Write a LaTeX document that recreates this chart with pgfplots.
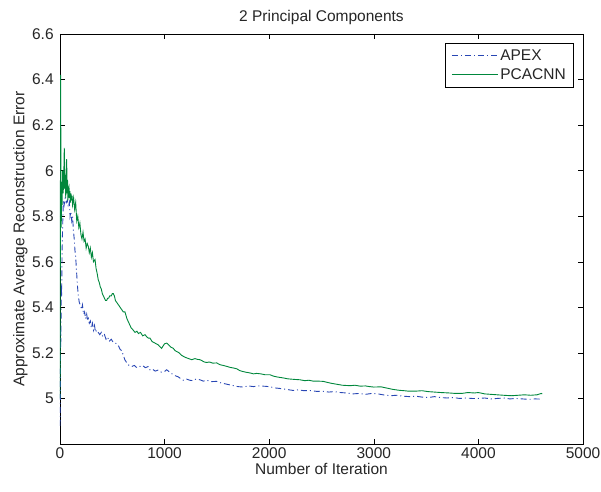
\documentclass[border=0pt]{standalone}
\usepackage{pgfplots}
\pgfplotsset{compat=1.18}
\usepackage{fontspec}
\setmainfont{Liberation Sans}
\definecolor{apexblue}{RGB}{40,70,180}
\definecolor{pcagreen}{RGB}{0,135,60}
\begin{document}
\fontsize{15.5}{18}\selectfont
\begin{tikzpicture}
\useasboundingbox (-60pt,-47pt) rectangle (541pt,444pt);
\begin{axis}[
  at={(0pt,0pt)}, anchor=south west,
  scale only axis,
  width=523pt, height=410pt,
  xmin=0, xmax=5000, ymin=4.8, ymax=6.6,
  xtick={0,1000,2000,3000,4000,5000},
  ytick={5,5.2,5.4,5.6,5.8,6,6.2,6.4,6.6},
  yticklabels={5,5.2,5.4,5.6,5.8,6,6.2,6.4,6.6},
  scaled x ticks=false,
  /pgf/number format/1000 sep={},
  /pgf/number format/assume math mode=true,
  tick align=inside,
  major tick length=5pt,
  tick style={black, line width=0.5pt},
  axis line style={black, line width=0.7pt},
  tick label style={font=\fontsize{15.5}{18}\selectfont, text=black!85},
  xticklabel style={yshift=2pt},
  yticklabel style={xshift=-1pt},
  label style={font=\fontsize{15.5}{18}\selectfont, text=black!85},
  title style={font=\fontsize{15.5}{18}\selectfont, text=black!85, yshift=-2pt},
  title={2 Principal Components},
  xlabel={Number of Iteration},
  ylabel={Approximate Average Reconstruction Error},
  xlabel style={yshift=6pt},
  ylabel style={yshift=-6pt},
  legend style={at={(0.983,0.978)}, anchor=north east,
    draw=black, line width=0.7pt, font=\fontsize{15.5}{18}\selectfont, text=black!85,
    inner xsep=6pt, inner ysep=4pt, row sep=2pt},
  legend cell align=left,
  legend image code/.code={\draw[#1] (0pt,0pt) -- (46pt,0pt);},
]
\addplot[apexblue, line width=0.9pt, dash pattern=on 6pt off 3pt on 1pt off 3pt] coordinates {
(0,4.88)(3,5.0)(6,5.3)(9,5.25)(12,5.5)(16,5.45)(20,5.65)(25,5.75)(32,5.87)(40,5.85)(50,5.88)(60,5.86)(70,5.87)(80,5.84)(90,5.86)(96,5.80)(104,5.82)(112,5.78)(120,5.80)(128,5.74)(136,5.70)(143,5.65)(150,5.62)(158,5.56)(166,5.50)(175,5.45)(185,5.42)(195,5.41)(207,5.39)(215,5.41)(225,5.37)(235,5.38)(245,5.35)(255,5.37)(265,5.34)(271,5.35)(280,5.33)(290,5.34)(300,5.31)(310,5.33)(320,5.30)(330,5.32)(340,5.29)(350,5.30)(366,5.29)(380,5.28)(395,5.29)(410,5.27)(425,5.28)(440,5.26)(455,5.27)(470,5.25)(490,5.26)(510,5.245)(526,5.243)(545,5.24)(560,5.23)(575,5.215)(590,5.21)(605,5.19)(620,5.17)(640,5.155)(660,5.145)(685,5.14)(710,5.145)(735,5.135)(760,5.14)(790,5.145)(815,5.135)(843,5.14)(860,5.126)(880,5.13)(910,5.12)(940,5.125)(970,5.115)(1004,5.12)(1020,5.126)(1050,5.115)(1080,5.105)(1100,5.10)(1130,5.095)(1150,5.088)(1179,5.08)(1210,5.085)(1240,5.08)(1270,5.078)(1300,5.085)(1338,5.082)(1370,5.076)(1400,5.08)(1450,5.074)(1498,5.075)(1540,5.068)(1580,5.064)(1620,5.06)(1660,5.056)(1700,5.052)(1753,5.05)(1800,5.055)(1850,5.052)(1900,5.055)(1976,5.053)(2020,5.05)(2060,5.046)(2100,5.044)(2160,5.04)(2231,5.035)(2280,5.038)(2330,5.034)(2390,5.035)(2454,5.031)(2510,5.032)(2570,5.028)(2620,5.03)(2680,5.026)(2740,5.024)(2800,5.02)(2860,5.022)(2920,5.018)(2980,5.022)(3040,5.02)(3100,5.015)(3160,5.012)(3220,5.014)(3280,5.01)(3340,5.008)(3400,5.01)(3460,5.006)(3520,5.004)(3580,5.008)(3640,5.004)(3700,5.002)(3760,5.004)(3820,5.0)(3880,5.002)(3940,5.0)(4000,5.0)(4060,5.002)(4120,4.998)(4180,5.0)(4240,5.002)(4300,4.998)(4360,5.0)(4420,4.998)(4480,4.996)(4540,4.998)(4610,4.997)
};
\addlegendentry{APEX}
\addplot[pcagreen, line width=0.9pt] coordinates {
(0,5.0)(3,5.6)(6,6.42)(9,6.0)(12,5.75)(15,5.95)(20,5.85)(25,6.0)(30,5.9)(35,5.95)(41,6.10)(45,5.92)(50,5.98)(55,5.88)(60,6.03)(64,6.05)(68,5.90)(72,5.96)(76,5.87)(80,5.92)(86,5.93)(90,5.88)(95,5.91)(100,5.86)(105,5.90)(110,5.87)(115,5.89)(120,5.85)(130,5.88)(140,5.83)(150,5.86)(160,5.78)(170,5.80)(180,5.75)(190,5.77)(200,5.72)(210,5.70)(220,5.73)(230,5.69)(240,5.70)(250,5.66)(260,5.68)(271,5.667)(280,5.64)(290,5.66)(300,5.62)(310,5.64)(320,5.60)(335,5.61)(345,5.57)(355,5.55)(366,5.52)(375,5.51)(385,5.49)(395,5.48)(405,5.46)(415,5.45)(425,5.44)(435,5.43)(446,5.43)(455,5.44)(465,5.44)(475,5.45)(490,5.45)(500,5.46)(510,5.46)(520,5.45)(530,5.43)(545,5.42)(560,5.41)(575,5.40)(590,5.39)(605,5.38)(621,5.38)(640,5.35)(660,5.33)(680,5.31)(700,5.30)(717,5.29)(735,5.295)(750,5.285)(770,5.29)(790,5.275)(813,5.28)(830,5.27)(845,5.265)(860,5.265)(880,5.25)(900,5.245)(920,5.24)(940,5.235)(960,5.225)(972,5.22)(985,5.23)(1000,5.24)(1020,5.243)(1040,5.235)(1060,5.225)(1083,5.22)(1100,5.21)(1120,5.205)(1140,5.20)(1160,5.19)(1179,5.185)(1200,5.18)(1230,5.175)(1260,5.17)(1290,5.175)(1310,5.172)(1338,5.17)(1360,5.165)(1380,5.16)(1400,5.158)(1430,5.16)(1460,5.155)(1498,5.156)(1530,5.148)(1560,5.145)(1600,5.14)(1630,5.136)(1657,5.134)(1690,5.13)(1720,5.122)(1750,5.118)(1780,5.115)(1816,5.112)(1850,5.108)(1880,5.11)(1920,5.108)(1960,5.104)(2008,5.104)(2040,5.098)(2080,5.094)(2135,5.09)(2180,5.086)(2230,5.084)(2294,5.082)(2340,5.078)(2380,5.08)(2420,5.076)(2470,5.076)(2517,5.075)(2560,5.07)(2600,5.066)(2650,5.062)(2700,5.058)(2772,5.056)(2820,5.058)(2870,5.054)(2920,5.055)(2960,5.052)(3000,5.050)(3069,5.051)(3120,5.046)(3180,5.04)(3240,5.036)(3290,5.034)(3332,5.032)(3400,5.032)(3460,5.034)(3520,5.03)(3580,5.028)(3640,5.026)(3725,5.024)(3780,5.022)(3840,5.022)(3900,5.026)(3960,5.024)(4000,5.026)(4060,5.02)(4120,5.018)(4180,5.016)(4240,5.014)(4314,5.012)(4380,5.014)(4440,5.016)(4500,5.014)(4560,5.016)(4600,5.022)(4610,5.02)
};
\addlegendentry{PCACNN}
\end{axis}
\end{tikzpicture}
\end{document}
